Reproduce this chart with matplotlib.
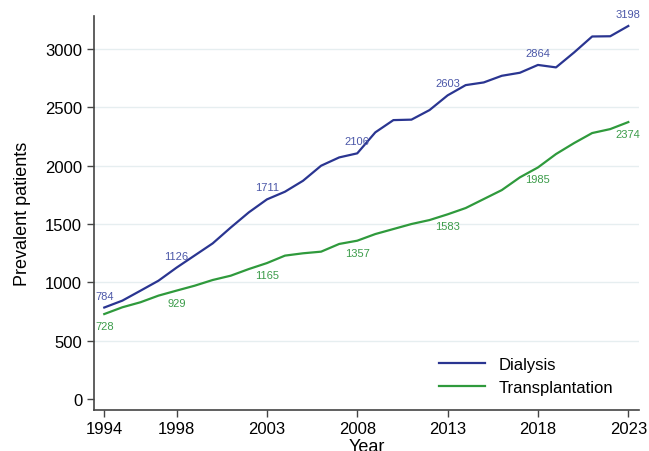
import matplotlib
matplotlib.use("Agg")
import matplotlib.pyplot as plt

plt.rcParams["font.family"] = ["Liberation Sans", "DejaVu Sans"]

years = list(range(1994, 2024))
dialysis = [784, 843, 928, 1014, 1126, 1230, 1334, 1470, 1600, 1711,
            1777, 1871, 2000, 2071, 2106, 2286, 2391, 2395, 2477, 2603,
            2691, 2714, 2771, 2797, 2864, 2843, 2971, 3108, 3110, 3198]
transplant = [728, 786, 829, 886, 929, 971, 1020, 1057, 1114, 1165,
              1229, 1249, 1263, 1329, 1357, 1414, 1457, 1500, 1534, 1583,
              1637, 1714, 1791, 1900, 1985, 2100, 2194, 2280, 2314, 2374]
label_years = [1994, 1998, 2003, 2008, 2013, 2018, 2023]
xticks = [1994, 1998, 2003, 2008, 2013, 2018, 2023]
yticks = [0, 500, 1000, 1500, 2000, 2500, 3000]

BLUE = "#2a3591"
GREEN = "#2f9a3c"
BLUE_TXT = "#4b57a8"
GREEN_TXT = "#3c9c4a"

fig = plt.figure(figsize=(6.49, 4.52), dpi=100)
ax = fig.add_axes([0.1448, 0.0914, 0.84, 0.8716])

ax.plot(years, dialysis, color=BLUE, lw=1.6, label="Dialysis")
ax.plot(years, transplant, color=GREEN, lw=1.6, label="Transplantation")

for y in label_years:
    i = years.index(y)
    ax.annotate(str(dialysis[i]), (y, dialysis[i]), xytext=(0, 5),
                textcoords="offset points", ha="center", va="bottom",
                fontsize=8, color=BLUE_TXT)
    ax.annotate(str(transplant[i]), (y, transplant[i]), xytext=(0, -5),
                textcoords="offset points", ha="center", va="top",
                fontsize=8, color=GREEN_TXT)

ax.set_xlim(1993.43, 2023.6)
ax.set_ylim(-92, 3286)
ax.set_xticks(xticks)
ax.set_yticks(yticks)
ax.tick_params(labelsize=12, color="#444444", length=5, width=1)
ax.set_xlabel("Year", fontsize=13, labelpad=1)
ax.set_ylabel("Prevalent patients", fontsize=13, labelpad=10)

for v in yticks[1:]:
    ax.axhline(v, color="#e6eef0", lw=1, zorder=0)

for s in ["top", "right"]:
    ax.spines[s].set_visible(False)
for s in ["left", "bottom"]:
    ax.spines[s].set_color("#444444")
    ax.spines[s].set_linewidth(1.2)

ax.legend(loc="lower right", frameon=False, fontsize=12,
          bbox_to_anchor=(0.98, 0.0), handlelength=2.8, labelspacing=0.45)

fig.savefig("out.png", dpi=100)
